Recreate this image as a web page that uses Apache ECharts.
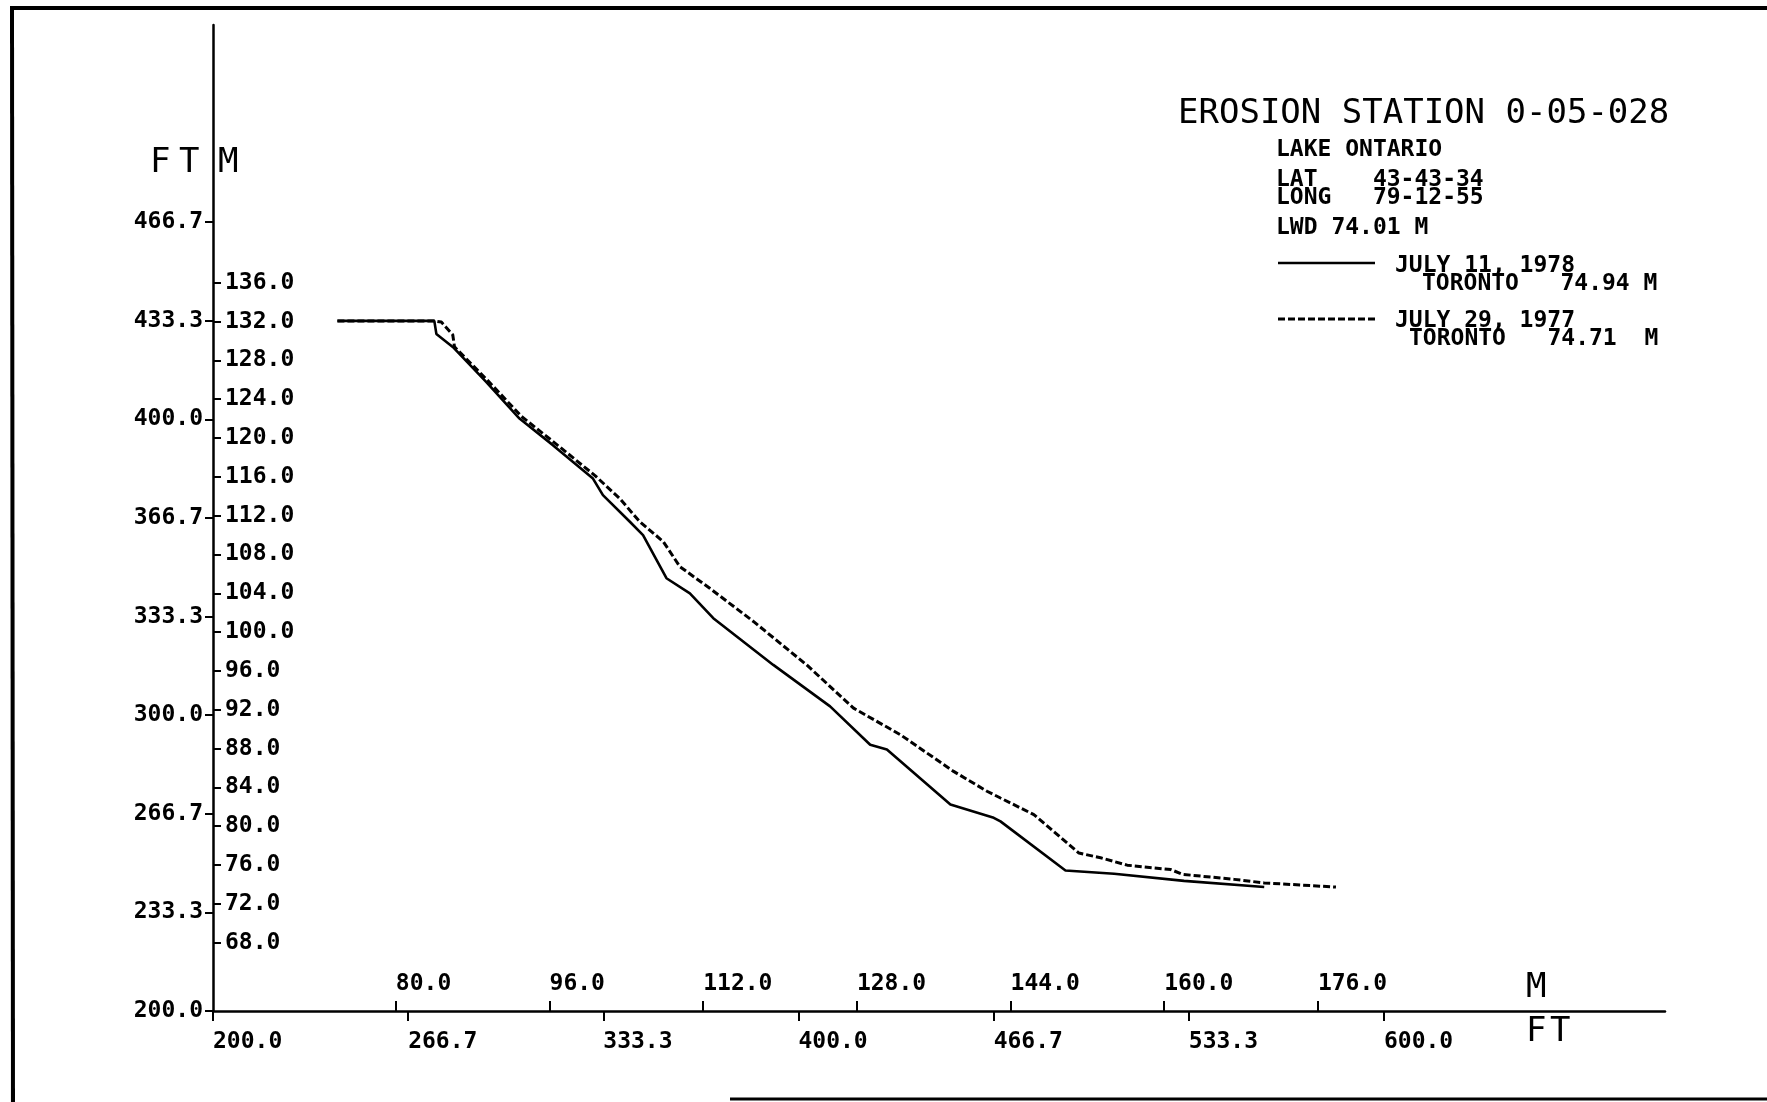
<!DOCTYPE html>
<html>
<head>
<meta charset="utf-8">
<title>Erosion Station 0-05-028</title>
<script src="https://cdn.jsdelivr.net/npm/echarts@6/dist/echarts.min.js"></script>
<style>
html,body{margin:0;padding:0;background:#fff;}
#chart{width:1767px;height:1102px;}
</style>
</head>
<body>
<div id="chart"></div>
<script>
// profile July 11, 1978 (solid) - distance FT, elevation FT
var x1978 = [242.5, 275.6, 276.3, 281.9, 293.3, 304.7, 316.1, 329.8, 333.2, 342.4, 346.9, 354.9, 362.9, 370.9, 391.4, 410.8, 424.5, 430.2, 451.9, 466.7, 469.0, 491.2, 507.8, 531.7, 559.1];
var y1978 = [433.3, 433.3, 428.9, 424.5, 412.7, 400.3, 391.3, 380.0, 374.4, 365.4, 360.9, 346.3, 341.2, 332.8, 317.0, 303.0, 290.0, 288.4, 269.8, 265.3, 264.1, 247.5, 246.4, 244.0, 241.9];
// profile July 29, 1977 (dashed)
var x1977 = [242.5, 275.6, 278.0, 281.9, 282.5, 293.8, 305.4, 316.8, 330.5, 338.9, 345.8, 353.8, 359.5, 369.7, 384.6, 402.8, 418.8, 434.8, 453.0, 464.4, 469.0, 480.4, 495.8, 503.2, 512.3, 527.2, 531.2, 548.8, 559.1, 583.6];
var y1977 = [433.3, 433.3, 432.9, 428.6, 424.5, 413.2, 401.0, 392.0, 381.0, 373.3, 365.4, 358.7, 350.2, 342.9, 331.7, 317.0, 302.4, 293.4, 281.0, 274.3, 272.0, 266.4, 253.4, 251.8, 249.3, 247.8, 246.2, 244.5, 243.3, 241.9];

// tick values
var ftTicksX = [200, 266.667, 333.333, 400, 466.667, 533.333, 600];
var mTicksX = [80, 96, 112, 128, 144, 160, 176];
var ftTicksY = [200, 233.333, 266.667, 300, 333.333, 366.667, 400, 433.333, 466.667];
var mTicksY = [68, 72, 76, 80, 84, 88, 92, 96, 100, 104, 108, 112, 116, 120, 124, 128, 132, 136];

var FT_PER_M = 3.28084;
var xMin = 200, xMax = 696, yMin = 200, yMax = 533.333;

var MONO = 'DejaVu Sans Mono';
var black = '#000';
function fmt(v) { return Number(v).toFixed(1); }
var lblStyle = { color: black, fontFamily: MONO, fontWeight: 'bold', fontSize: 23, formatter: fmt };
var tickStyle = { color: black, width: 2 };

function zip(xs, ys) {
    return xs.map(function (x, i) { return [x, ys[i]]; });
}
function txt(s, x, y, font) {
    return { type: 'text', x: x, y: y, style: { text: s, fill: black, font: font, textVerticalAlign: 'middle' } };
}
var big = '34px ' + MONO;
var small = 'bold 23px ' + MONO;

var chart = echarts.init(document.getElementById('chart'));
chart.setOption({
    animation: false,
    backgroundColor: '#fff',
    grid: { left: 213, right: 102, top: 25, bottom: 91 },
    xAxis: [{
        type: 'value', position: 'bottom', min: xMin, max: xMax,
        axisLine: { onZero: false, lineStyle: { color: black, width: 2.5 } },
        axisTick: { customValues: ftTicksX, length: 10, lineStyle: tickStyle },
        axisLabel: Object.assign({ customValues: ftTicksX, align: 'left', margin: 20 }, lblStyle),
        splitLine: { show: false }
    }, {
        type: 'value', position: 'bottom', min: xMin / FT_PER_M, max: xMax / FT_PER_M,
        axisLine: { show: false, onZero: false },
        axisTick: { customValues: mTicksX, inside: true, length: 10, lineStyle: tickStyle },
        axisLabel: Object.assign({ customValues: mTicksX, inside: true, align: 'left', margin: 15 }, lblStyle),
        splitLine: { show: false }
    }],
    yAxis: [{
        type: 'value', position: 'left', min: yMin, max: yMax,
        axisLine: { onZero: false, lineStyle: { color: black, width: 2.5 } },
        axisTick: { customValues: ftTicksY, length: 8, lineStyle: tickStyle },
        axisLabel: Object.assign({ customValues: ftTicksY, margin: 10 }, lblStyle),
        splitLine: { show: false }
    }, {
        type: 'value', position: 'left', min: yMin / FT_PER_M, max: yMax / FT_PER_M,
        axisLine: { show: false, onZero: false },
        axisTick: { customValues: mTicksY, inside: true, length: 8, lineStyle: tickStyle },
        axisLabel: Object.assign({ customValues: mTicksY, inside: true, margin: 12 }, lblStyle),
        splitLine: { show: false }
    }],
    series: [{
        name: 'JULY 11, 1978',
        type: 'line', xAxisIndex: 0, yAxisIndex: 0,
        symbol: 'none',
        lineStyle: { color: black, width: 2.6 },
        data: zip(x1978, y1978)
    }, {
        name: 'JULY 29, 1977',
        type: 'line', xAxisIndex: 0, yAxisIndex: 0,
        symbol: 'none',
        lineStyle: { color: black, width: 3, type: [7, 3] },
        data: zip(x1977, y1977)
    }],
    graphic: [
        // scanned page border
        { type: 'line', shape: { x1: 10, y1: 8, x2: 1767, y2: 8 }, style: { stroke: black, lineWidth: 4 } },
        { type: 'line', shape: { x1: 12, y1: 8, x2: 13, y2: 1102 }, style: { stroke: black, lineWidth: 4 } },
        { type: 'line', shape: { x1: 730, y1: 1099, x2: 1767, y2: 1099 }, style: { stroke: black, lineWidth: 3 } },
        // axis units
        txt('F', 150, 163, big),
        txt('T', 179, 163, big),
        txt('M', 218, 163, big),
        txt('M', 1526, 988, big),
        txt('F', 1526, 1032, big),
        txt('T', 1550, 1032, big),
        // title block
        txt('EROSION STATION 0-05-028', 1178, 114, big),
        txt('LAKE ONTARIO', 1276, 150, small),
        txt('LAT    43-43-34', 1276, 180, small),
        txt('LONG   79-12-55', 1276, 198, small),
        txt('LWD 74.01 M', 1276, 228, small),
        // legend
        { type: 'line', shape: { x1: 1278, y1: 263, x2: 1375, y2: 263 }, style: { stroke: black, lineWidth: 2.6 } },
        txt('JULY 11, 1978', 1395, 266, small),
        txt('TORONTO   74.94 M', 1422, 284, small),
        { type: 'line', shape: { x1: 1278, y1: 319, x2: 1375, y2: 319 }, style: { stroke: black, lineWidth: 3, lineDash: [7, 3] } },
        txt('JULY 29, 1977', 1395, 321, small),
        txt('TORONTO   74.71  M', 1409, 339, small)
    ]
});
</script>
</body>
</html>
